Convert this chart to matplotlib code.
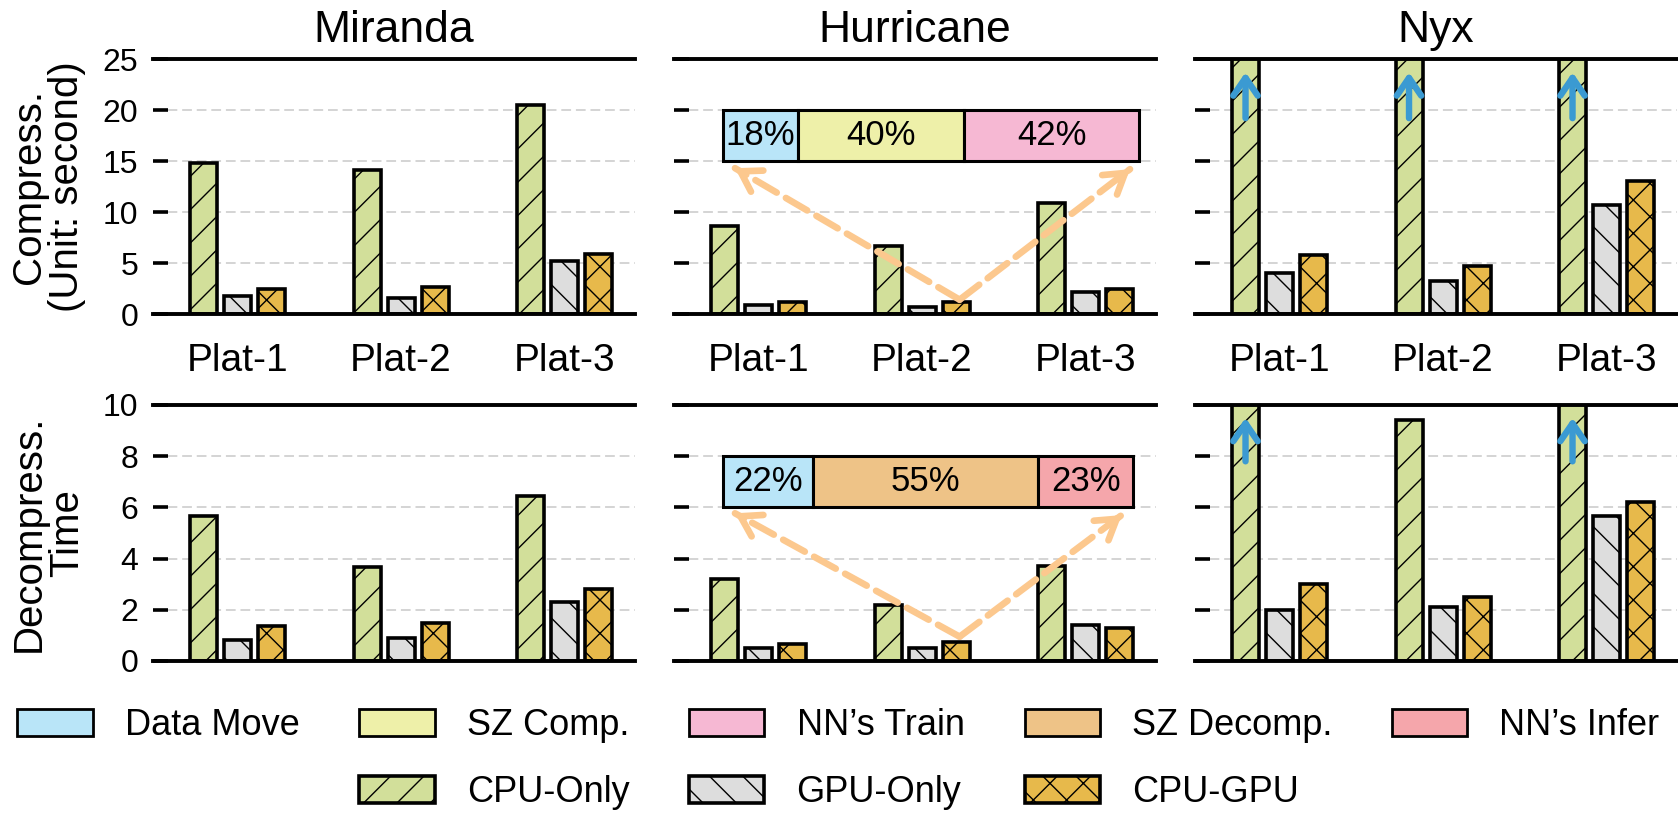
import matplotlib.pyplot as plt
import numpy as np
from matplotlib.patches import Patch

plt.rcParams['font.family'] = ['Liberation Sans', 'DejaVu Sans']
plt.rcParams['hatch.linewidth'] = 0.5

datasets = ['Miranda', 'Hurricane', 'Nyx']
platforms = ['Plat-1', 'Plat-2', 'Plat-3']
methods = ['CPU-Only', 'GPU-Only', 'CPU-GPU']

# compression time (s): one row per dataset, one value per platform
comp_cpu = [[14.8, 14.1, 20.5], [8.6, 6.7, 10.9], [30.0, 30.0, 30.0]]
comp_gpu = [[1.8, 1.6, 5.2], [0.85, 0.65, 2.2], [4.05, 3.2, 10.7]]
comp_hyb = [[2.5, 2.6, 5.9], [1.15, 1.15, 2.5], [5.8, 4.7, 13.0]]

# decompression time (s)
decomp_cpu = [[5.65, 3.67, 6.45], [3.2, 2.2, 3.7], [12.0, 9.4, 12.0]]
decomp_gpu = [[0.82, 0.9, 2.3], [0.52, 0.5, 1.4], [2.0, 2.1, 5.65]]
decomp_hyb = [[1.38, 1.5, 2.8], [0.68, 0.75, 1.3], [3.0, 2.5, 6.2]]

# time breakdown of CPU-GPU on Hurricane / Plat-2
comp_parts = ['Data Move', 'SZ Comp.', 'NN’s Train']
comp_pct = [18, 40, 42]
decomp_parts = ['Data Move', 'SZ Decomp.', 'NN’s Infer']
decomp_pct = [22, 55, 23]

bar_colors = ['#d2df9a', '#dddddd', '#e7b94b']
hatches = ['//', '\\\\', 'xx']
part_colors = {'Data Move': '#b9e5f8', 'SZ Comp.': '#eef0a9', 'NN’s Train': '#f6b8d3',
               'SZ Decomp.': '#eec387', 'NN’s Infer': '#f5a6ab'}
peach = '#fcc88e'
blue = '#3b9ad2'

fig = plt.figure(figsize=(8.39, 4.09), dpi=200)
W, H = 1678, 818
lefts = [153, 674, 1195]
axw = 482
rows = [(59, 314), (405, 661)]


def add_ax(col, row):
    top, bot = rows[row]
    return fig.add_axes([lefts[col] / W, 1 - bot / H, axw / W, (bot - top) / H])


def style(ax, ymax, step, show_labels):
    ax.set_xlim(-0.517, 2.431)
    ax.set_ylim(0, ymax)
    ax.set_yticks(np.arange(0, ymax + 0.1, step))
    for s in ['left', 'right']:
        ax.spines[s].set_visible(False)
    for s in ['top', 'bottom']:
        ax.spines[s].set_linewidth(1.4)
    ax.tick_params(axis='y', direction='in', length=5.4, width=1.3, pad=5.4,
                   labelsize=11.5, labelleft=show_labels)
    ax.grid(axis='y', color='#d4d4d4', lw=0.7, ls=(0, (5, 2.5)))
    ax.set_axisbelow(True)


def bars(ax, series, ymax, arrow_lo, arrow_hi):
    x = np.arange(len(platforms))
    offs = [-0.208, 0, 0.208]
    for j, vals in enumerate(series):
        ax.bar(x + offs[j], vals, width=0.165, color=bar_colors[j], edgecolor='black',
               lw=1.3, hatch=hatches[j])
    # off-scale bars get an up arrow
    for k, v in enumerate(series[0]):
        if v > ymax:
            ax.annotate('', xy=(k + offs[0], arrow_hi), xytext=(k + offs[0], arrow_lo),
                        arrowprops=dict(arrowstyle='->,head_length=0.32,head_width=0.22',
                                        color=blue, lw=2.3, capstyle='round',
                                        joinstyle='round', shrinkA=0, shrinkB=0,
                                        mutation_scale=20),
                        zorder=6)


def breakdown(ax, parts, pct, y, h, x0, total):
    lens = np.array(pct) / 100 * total
    starts = x0 + np.concatenate([[0], np.cumsum(lens)[:-1]])
    for p, l, s, L in zip(parts, pct, starts, lens):
        ax.barh(y, L, left=s, height=h, color=part_colors[p], edgecolor='black', lw=1.1, zorder=5)
        ax.text(s + L / 2, y, f'{l}%', ha='center', va='center', fontsize=12.5, zorder=6)


def dashed_arrow(ax, start, tip):
    ax.plot([start[0], tip[0]], [start[1], tip[1]], color=peach, lw=2.4, ls='--',
            dash_capstyle='round', zorder=7)
    back = (tip[0] - 0.04 * (tip[0] - start[0]), tip[1] - 0.04 * (tip[1] - start[1]))
    ax.annotate('', xy=tip, xytext=back,
                arrowprops=dict(arrowstyle='->,head_length=0.35,head_width=0.22', color=peach,
                                lw=2.4, capstyle='round', joinstyle='round',
                                shrinkA=0, shrinkB=0, mutation_scale=20), zorder=7)


for i, name in enumerate(datasets):
    # compression row
    ax = add_ax(i, 0)
    style(ax, 25, 5, i == 0)
    bars(ax, [comp_cpu[i], comp_gpu[i], comp_hyb[i]], 25, 19.2, 23.7)
    ax.set_xticks(range(3), platforms)
    ax.tick_params(axis='x', length=0, pad=10.5, labelsize=14)
    ax.set_title(name, fontsize=16, pad=6)
    if i == 0:
        ax.set_ylabel('Compress.\n(Unit: second)', fontsize=14.5, labelpad=6, linespacing=1.0)
    if name == 'Hurricane':
        breakdown(ax, comp_parts, comp_pct, 17.5, 5, -0.219, 2.548)
        dashed_arrow(ax, (1.23, 1.4), (-0.144, 14.3))
        dashed_arrow(ax, (1.23, 1.4), (2.272, 14.2))

    # decompression row
    ax = add_ax(i, 1)
    style(ax, 10, 2, i == 0)
    bars(ax, [decomp_cpu[i], decomp_gpu[i], decomp_hyb[i]], 10, 7.8, 9.5)
    ax.set_xticks([])
    if i == 0:
        ax.set_ylabel('Decompress.\nTime', fontsize=14.5, labelpad=6, linespacing=1.0)
    if name == 'Hurricane':
        breakdown(ax, decomp_parts, decomp_pct, 7.0, 2, -0.219, 2.508)
        dashed_arrow(ax, (1.23, 0.95), (-0.144, 5.77))
        dashed_arrow(ax, (1.23, 0.95), (2.221, 5.7))


# legend: 5 columns, second row shifted one column to the right
def part_patch(p):
    return Patch(facecolor=part_colors[p], edgecolor='black', lw=1.0)


def method_patch(j):
    return Patch(facecolor=bar_colors[j], edgecolor='black', lw=1.3, hatch=hatches[j])


blank = Patch(facecolor='none', edgecolor='none')
handles = [part_patch('Data Move'), blank,
           part_patch('SZ Comp.'), method_patch(0),
           part_patch('NN’s Train'), method_patch(1),
           part_patch('SZ Decomp.'), method_patch(2),
           part_patch('NN’s Infer'), blank]
labels = ['Data Move', '', 'SZ Comp.', methods[0], 'NN’s Train', methods[1],
          'SZ Decomp.', methods[2], 'NN’s Infer', '']
fig.legend(handles, labels, ncol=5, loc='center', bbox_to_anchor=(0.4997, 0.072),
           frameon=False, fontsize=13, handlelength=2.08, handleheight=0.78,
           handletextpad=0.89, columnspacing=1.66, labelspacing=0.89,
           borderpad=0, borderaxespad=0)

fig.savefig('out.png', dpi=200)
